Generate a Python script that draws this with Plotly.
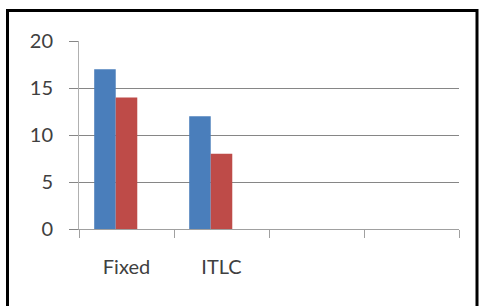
import plotly.graph_objects as go

categories = ["Fixed", "ITLC", " ", "  "]
series1 = [17, 12, None, None]
series2 = [14, 8, None, None]
series3 = [None, None, None, None]

W, H = 484, 306
L, R, T, B = 79, 459, 41, 229
pw, ph = R - L, B - T

fig = go.Figure()
fig.add_trace(go.Bar(x=categories, y=series1, marker_color="#4A7EBB", marker_line_width=0, name="Series1"))
fig.add_trace(go.Bar(x=categories, y=series2, marker_color="#BE4B48", marker_line_width=0, name="Series2"))
fig.add_trace(go.Bar(x=categories, y=series3, marker_color="#98B954", marker_line_width=0, name="Series3"))

font = dict(family="Lato, Open Sans, sans-serif", size=20, color="#404040")

fig.update_layout(
    width=W, height=H,
    margin=dict(l=L, r=W - R, t=T, b=H - B, pad=0),
    paper_bgcolor="white", plot_bgcolor="white",
    barmode="group", bargap=0.32, bargroupgap=0,
    showlegend=False,
    font=font,
    xaxis=dict(
        type="category", categoryorder="array", categoryarray=categories,
        tickson="boundaries", ticks="outside", ticklen=8, tickcolor="#A0A0A0", tickwidth=1,
        showline=True, linecolor="#A0A0A0", linewidth=1,
        showgrid=False, tickfont=font, ticklabelstandoff=20,
    ),
    yaxis=dict(
        range=[0, 20], tickvals=[0, 5, 10, 15, 20],
        ticks="outside", ticklen=9, tickcolor="#868686", tickwidth=1,
        showline=True, linecolor="#B0B0B0", linewidth=1,
        showgrid=True, gridcolor="#868686", gridwidth=1,
        zeroline=False, tickfont=font, ticklabelstandoff=12,
    ),
    shapes=[dict(
        type="rect", xref="paper", yref="paper",
        x0=(7.5 - L) / pw, x1=(477 - L) / pw,
        y0=(B - 320) / ph, y1=(B - 10.5) / ph,
        line=dict(color="black", width=3), fillcolor="rgba(0,0,0,0)", layer="above",
    )],
)

fig.write_html(
    "out.html",
    config={"displayModeBar": False},
    post_script="document.body.style.margin='0';document.body.style.overflow='hidden';",
)
